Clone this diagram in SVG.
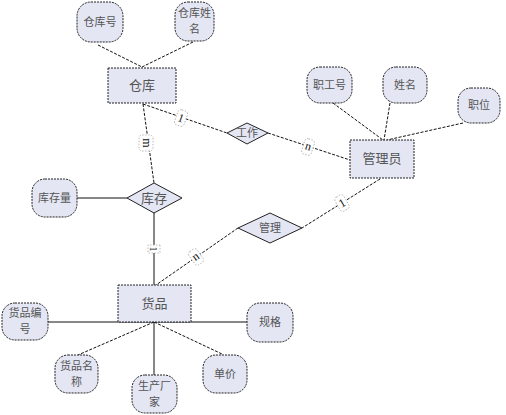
<svg xmlns="http://www.w3.org/2000/svg" width="506" height="415" viewBox="0 0 506 415">
<style>
.attr{fill:#e4e6f4;stroke:#222;stroke-width:1;stroke-dasharray:2,1}
.ent{fill:#e4e6f4;stroke:#222;stroke-width:1;stroke-dasharray:2,1}
.rel{fill:#e4e6f4;stroke:#222;stroke-width:1}
.t{font-family:"Noto Sans CJK SC","Liberation Serif",serif;font-size:11px;fill:#555;text-anchor:middle}
.te{font-family:"Noto Sans CJK SC","Liberation Serif",serif;font-size:13px;fill:#555;text-anchor:middle}
.d{stroke:#111;stroke-width:1;stroke-dasharray:3,1.5;fill:none}
.s{stroke:#111;stroke-width:1;fill:none}
.lb{fill:#fff;stroke:#aaa;stroke-width:0.8;stroke-dasharray:1.5,1.5}
.lt{font-family:"Liberation Serif",serif;font-size:12px;fill:#111;text-anchor:middle}
</style>
<rect width="506" height="415" fill="#fff"/>
<g id="connectors">
<line class="d" x1="98" y1="45" x2="142" y2="67"/>
<line class="d" x1="193" y1="42" x2="142" y2="67"/>
<line class="d" x1="143" y1="104" x2="227" y2="133"/>
<line class="d" x1="268" y1="133" x2="350" y2="160"/>
<line class="d" x1="143" y1="104" x2="154" y2="183"/>
<line class="d" x1="333" y1="103" x2="383" y2="140"/>
<line class="d" x1="390" y1="103" x2="384" y2="140"/>
<line class="d" x1="463" y1="123" x2="387" y2="140"/>
<line class="d" x1="380" y1="179" x2="302" y2="228"/>
<line class="d" x1="238" y1="228" x2="156" y2="285"/>
<line class="s" x1="77" y1="198" x2="127" y2="198"/>
<line class="s" x1="154" y1="213" x2="154" y2="285"/>
<line class="s" x1="48" y1="322" x2="247" y2="322"/>
<line class="s" x1="154" y1="322" x2="154" y2="375"/>
<line class="d" x1="154" y1="322" x2="78" y2="355"/>
<line class="d" x1="154" y1="322" x2="222" y2="354"/>
<g transform="translate(181,118) rotate(20)"><rect class="lb" x="-5" y="-8" width="10" height="16" rx="3"/><text class="lt" x="0" y="4">1</text></g>
<g transform="translate(308,147) rotate(18)"><rect class="lb" x="-5" y="-8" width="10" height="16" rx="3"/><text class="lt" x="0" y="3">n</text></g>
<g transform="translate(146,143) rotate(90)"><rect class="lb" x="-8" y="-7" width="16" height="14" rx="3"/><text class="lt" x="0" y="3">m</text></g>
<g transform="translate(154,249) rotate(90)"><rect class="lb" x="-4" y="-6" width="8" height="12"/><text class="lt" x="0" y="4" style="font-size:10px">1</text></g>
<g transform="translate(342,203) rotate(-30)"><rect class="lb" x="-5" y="-8" width="10" height="16" rx="3"/><text class="lt" x="0" y="4">1</text></g>
<g transform="translate(196,257) rotate(-35)"><rect class="lb" x="-5" y="-8" width="10" height="16" rx="3"/><text class="lt" x="0" y="3">n</text></g>
</g>
<g id="warehouse-no"><rect class="attr" x="77" y="2" width="46" height="40" rx="14"/><text class="t" x="100" y="26">仓库号</text></g>
<g id="warehouse-name"><rect class="attr" x="175" y="2" width="39" height="39" rx="13"/><text class="t" x="194.5" y="17">仓库姓</text><text class="t" x="194.5" y="33">名</text></g>
<g id="warehouse"><rect class="ent" x="108" y="68" width="68" height="35"/><text class="te" x="142" y="90">仓库</text></g>
<g id="work"><polygon class="rel" points="227,133 247,123 268,133 247,144"/><text class="t" x="247" y="137">工作</text></g>
<g id="staff-no"><rect class="attr" x="307" y="67" width="45" height="36" rx="13"/><text class="t" x="329.5" y="89">职工号</text></g>
<g id="name"><rect class="attr" x="383" y="67" width="44" height="36" rx="13"/><text class="t" x="405" y="89">姓名</text></g>
<g id="position"><rect class="attr" x="458" y="88" width="42" height="35" rx="13"/><text class="t" x="479" y="109">职位</text></g>
<g id="manager"><rect class="ent" x="350" y="140" width="64" height="38"/><text class="te" x="382" y="163">管理员</text></g>
<g id="stock-qty"><rect class="attr" x="32" y="179" width="45" height="38" rx="13"/><text class="t" x="54.5" y="202">库存量</text></g>
<g id="stock"><polygon class="rel" points="127,198 154,183 182,198 154,213"/><text class="te" x="154" y="203">库存</text></g>
<g id="manage"><polygon class="rel" points="238,228 270,213 302,228 270,243"/><text class="t" x="270" y="232">管理</text></g>
<g id="goods"><rect class="ent" x="118" y="285" width="73" height="37"/><text class="te" x="154.5" y="308">货品</text></g>
<g id="goods-no"><rect class="attr" x="2" y="303" width="46" height="37" rx="13"/><text class="t" x="25" y="317">货品编</text><text class="t" x="25" y="333">号</text></g>
<g id="spec"><rect class="attr" x="247" y="303" width="46" height="39" rx="13"/><text class="t" x="270" y="326">规格</text></g>
<g id="goods-name"><rect class="attr" x="55" y="355" width="43" height="38" rx="13"/><text class="t" x="76.5" y="370">货品名</text><text class="t" x="76.5" y="386">称</text></g>
<g id="maker"><rect class="attr" x="132" y="375" width="45" height="38" rx="13"/><text class="t" x="154.5" y="390">生产厂</text><text class="t" x="154.5" y="406">家</text></g>
<g id="price"><rect class="attr" x="203" y="355" width="44" height="38" rx="13"/><text class="t" x="225" y="378">单价</text></g>
</svg>
